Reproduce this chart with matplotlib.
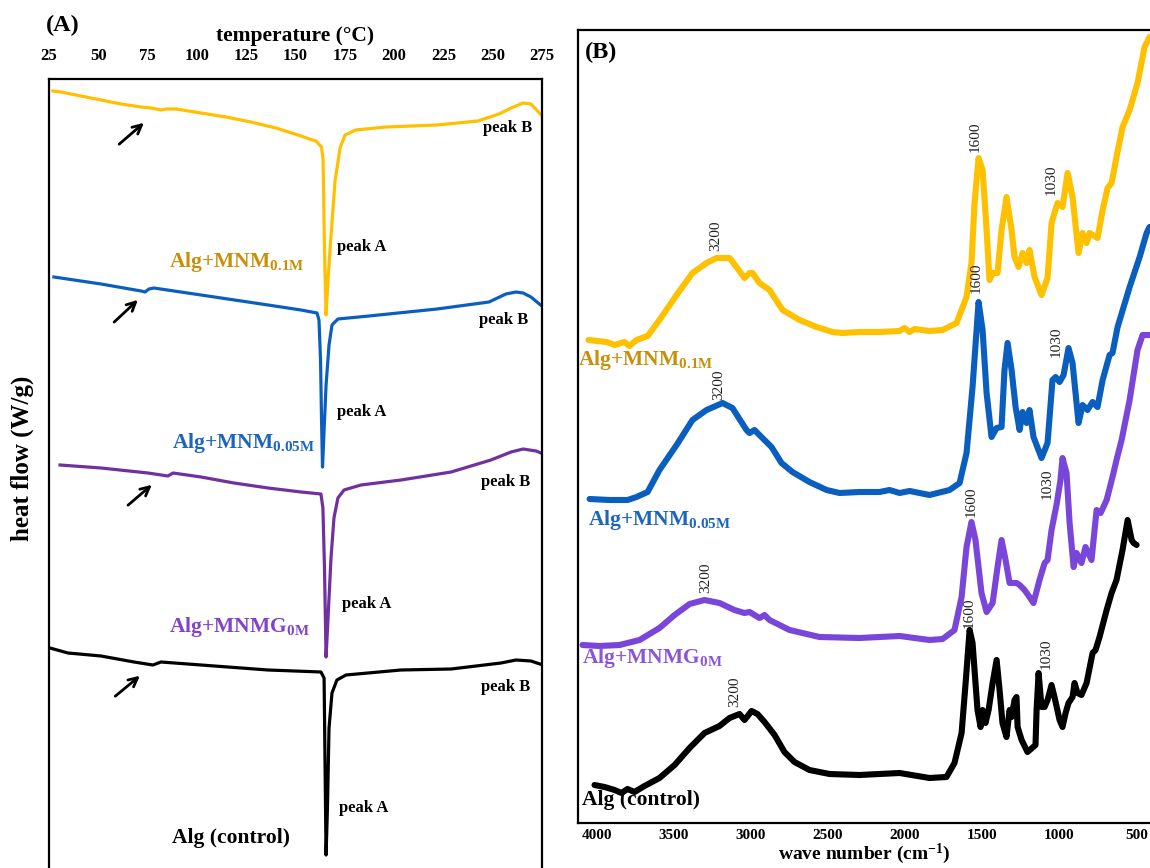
import matplotlib.pyplot as plt

plt.rcParams['font.family'] = ['Liberation Serif', 'DejaVu Serif']
plt.rcParams['font.weight'] = 'bold'
plt.rcParams['mathtext.fontset'] = 'custom'
plt.rcParams['mathtext.rm'] = 'Liberation Serif:bold'
plt.rcParams['mathtext.it'] = 'Liberation Serif:bold'
plt.rcParams['mathtext.bf'] = 'Liberation Serif:bold'

# ---- (A) DSC curves: temperature (C) / heat flow (a.u., stacked) ----
temp_01 = [27.0, 31.1, 41.2, 51.4, 61.5, 71.7, 76.8, 81.8, 84.4, 89.4, 102.1, 114.8, 127.4,
           140.1, 152.8, 157.0, 160.4, 163.2, 164.0, 164.7, 165.5, 166.5, 167.5, 170.0, 172.6,
           175.1, 180.5, 195.9, 221.8, 242.5, 253.2, 259.3, 265.4, 269.4, 277.5]
hf_01 = [777, 776, 772, 768, 764, 761, 760, 758, 759, 759, 755, 751, 746,
         740, 732, 729, 727, 721, 708, 618, 553, 588, 618, 686, 720,
         733, 738, 741, 743, 747, 754, 760, 765, 764, 747]

temp_005 = [27.5, 51.4, 71.7, 73.7, 75.7, 78.2, 102.1, 136.1, 152.8, 160.9, 161.9, 162.7,
            163.2, 163.7, 164.5, 165.5, 167.0, 168.5, 171.5, 187.3, 221.8, 248.1, 256.7,
            261.8, 265.4, 269.4, 275.5]
hf_005 = [591, 584, 577, 576, 579, 580, 573, 563, 558, 555, 548, 508,
          448, 401, 438, 483, 523, 543, 549, 552, 559, 566, 574,
          576, 575, 571, 561]

temp_0 = [30.6, 51.4, 75.2, 85.3, 87.9, 102.1, 118.8, 136.1, 152.8, 162.9, 163.9, 164.7,
          165.5, 166.5, 168.0, 169.5, 171.5, 174.6, 183.2, 203.5, 228.9, 249.1, 259.3,
          265.4, 272.0, 277.0]
hf_0 = [403, 400, 395, 392, 395, 391, 385, 380, 376, 374, 360, 300,
        211, 250, 310, 350, 370, 378, 383, 388, 396, 408, 416,
        419, 417, 413]

temp_ctrl = [25.5, 34.6, 51.4, 68.1, 77.7, 81.8, 102.1, 136.1, 162.9, 164.5, 165.0, 165.5,
             166.2, 167.0, 168.5, 171.0, 175.6, 203.5, 228.9, 254.2, 261.8, 269.4, 277.0]
hf_ctrl = [220, 215, 212, 206, 203, 206, 203, 198, 196, 190, 100, 13,
           60, 140, 175, 188, 193, 198, 199, 205, 208, 207, 202]

temp_ticks = [25, 50, 75, 100, 125, 150, 175, 200, 225, 250, 275]

# ---- (B) FTIR spectra: wave number (cm-1) / transmittance (a.u., stacked) ----
wn_01 = [4052, 3935, 3883, 3819, 3786, 3741, 3669, 3592, 3481, 3378, 3287, 3222, 3138, 3093,
         3041, 3008, 2989, 2944, 2879, 2794, 2684, 2574, 2470, 2406, 2295, 2166, 2036, 2004,
         1971, 1939, 1842, 1757, 1667, 1602, 1570, 1550, 1524, 1498, 1472, 1453, 1433, 1401,
         1375, 1343, 1310, 1291, 1265, 1239, 1213, 1194, 1161, 1116, 1077, 1051, 1032, 1012,
         980, 947, 915, 876, 850, 824, 805, 753, 720, 688, 662, 630, 591, 545, 494, 448, 416]
tr_01 = [483, 481, 478, 481, 477, 483, 487, 503, 528, 550, 560, 565, 565, 556,
         545, 550, 550, 540, 533, 513, 503, 496, 491, 490, 491, 491, 492, 495,
         491, 494, 492, 493, 500, 526, 560, 620, 665, 653, 593, 543, 550, 550,
         593, 626, 593, 566, 556, 570, 560, 573, 546, 528, 545, 600, 610, 620,
         616, 650, 626, 570, 590, 580, 590, 585, 613, 635, 640, 666, 696, 713, 740, 776, 786]

wn_005 = [4045, 3916, 3799, 3741, 3669, 3592, 3481, 3378, 3287, 3183, 3119, 3028, 3008, 2976,
          2944, 2866, 2801, 2730, 2620, 2509, 2425, 2295, 2166, 2101, 2036, 1971, 1842, 1712,
          1647, 1602, 1563, 1524, 1498, 1472, 1440, 1407, 1375, 1356, 1336, 1310, 1284, 1258,
          1239, 1213, 1194, 1168, 1116, 1077, 1045, 1025, 999, 973, 941, 915, 876, 850, 818,
          785, 753, 720, 675, 656, 623, 545, 480, 435, 416]
tr_005 = [324, 323, 323, 326, 331, 353, 378, 403, 413, 420, 415, 393, 390, 393,
          388, 376, 360, 351, 341, 333, 330, 331, 331, 333, 330, 332, 328, 333,
          340, 370, 436, 521, 493, 430, 386, 395, 396, 453, 480, 453, 416, 393,
          411, 400, 413, 386, 365, 380, 443, 446, 441, 448, 475, 460, 400, 418, 413,
          421, 416, 443, 468, 470, 496, 536, 566, 590, 596]

wn_0 = [4091, 3981, 3851, 3721, 3592, 3494, 3397, 3300, 3203, 3106, 3041, 3008, 2944, 2911,
        2879, 2749, 2555, 2295, 2036, 1842, 1757, 1680, 1634, 1602, 1570, 1544, 1505, 1472,
        1433, 1401, 1375, 1349, 1323, 1278, 1258, 1226, 1194, 1168, 1129, 1096, 1077, 1051,
        1019, 993, 980, 954, 934, 908, 889, 857, 831, 792, 759, 733, 694, 656, 630, 597,
        545, 494, 461, 416]
tr_0 = [178, 177, 178, 183, 195, 208, 219, 223, 220, 213, 210, 211, 205, 208,
        203, 193, 186, 185, 187, 183, 184, 193, 226, 276, 301, 283, 230, 211,
        220, 256, 283, 263, 240, 240, 238, 233, 226, 220, 243, 260, 263, 293,
        318, 343, 365, 350, 300, 256, 270, 260, 276, 263, 313, 310, 323, 346, 363, 383,
        423, 473, 488, 488]

wn_ctrl = [4013, 3948, 3883, 3838, 3799, 3754, 3689, 3592, 3494, 3397, 3300, 3203, 3138, 3073,
           3041, 2995, 2957, 2911, 2846, 2782, 2717, 2620, 2490, 2295, 2036, 1842, 1732, 1680,
           1634, 1608, 1582, 1563, 1531, 1511, 1498, 1479, 1459, 1433, 1407, 1388, 1369, 1343,
           1323, 1310, 1291, 1278, 1271, 1245, 1207, 1155, 1148, 1135, 1116, 1096, 1077, 1051,
           1032, 999, 980, 960, 941, 915, 902, 883, 857, 824, 811, 785, 766, 740, 694, 662,
           630, 591, 558, 532, 519, 500]
tr_ctrl = [38, 36, 33, 30, 34, 31, 37, 45, 58, 75, 90, 97, 105, 109,
           103, 112, 109, 101, 88, 71, 61, 53, 49, 48, 50, 45, 46, 60,
           90, 140, 193, 180, 113, 96, 113, 100, 113, 140, 163, 133, 100, 86,
           113, 106, 123, 126, 96, 83, 71, 78, 113, 150, 116, 116, 123, 138,
           126, 103, 96, 110, 120, 126, 140, 130, 128, 140, 150, 170, 173, 186, 213, 230,
           243, 273, 303, 283, 280, 278]

wn_ticks = [4000, 3500, 3000, 2500, 2000, 1500, 1000, 500]

# peak annotations (wave number, height) per spectrum
ftir_marks = {
    '01': [('3200', 3229, 587), ('1600', 1543, 686), ('1030', 1051, 643)],
    '005': [('3200', 3209, 438), ('1600', 1537, 545), ('1030', 1019, 481)],
    '0': [('3200', 3294, 245), ('1600', 1570, 321), ('1030', 1077, 339)],
    'ctrl': [('3200', 3106, 131), ('1600', 1582, 210), ('1030', 1083, 169)],
}

names = [r'Alg+MNM$_{0.1M}$', r'Alg+MNM$_{0.05M}$', r'Alg+MNMG$_{0M}$', 'Alg (control)']

c_yel, c_blue, c_purA, c_purB = '#FFC000', '#0A5FBE', '#7030A0', '#7A46DA'
lab_cols = ['#C8900A', '#1C64BE', '#8043CC', 'black']

fig = plt.figure(figsize=(11.5, 8.68), dpi=100)

# ---------------- panel A ----------------
axA = fig.add_axes([49 / 1150, 0.0, 493 / 1150, 1 - 79 / 868])
for t, h, c in [(temp_01, hf_01, c_yel), (temp_005, hf_005, c_blue),
                (temp_0, hf_0, c_purA), (temp_ctrl, hf_ctrl, 'black')]:
    axA.plot(t, h, color=c, lw=2.3, solid_joinstyle='round')
axA.set_xlim(25, 275)
axA.set_ylim(0, 789)
axA.xaxis.tick_top()
axA.xaxis.set_label_position('top')
axA.set_xticks(temp_ticks)
axA.set_xticklabels([str(v) for v in temp_ticks], fontsize=12, fontweight='bold')
axA.tick_params(axis='x', length=0, pad=11)
axA.set_yticks([])
axA.set_xlabel('temperature (°C)', fontsize=15.5, fontweight='bold', labelpad=5)
axA.set_ylabel('heat flow (W/g)', fontsize=18, fontweight='bold', va='center')
axA.yaxis.set_label_coords(-27 / 493, (868 - 458) / 789)
axA.spines['bottom'].set_visible(False)
for s in ['left', 'top', 'right']:
    axA.spines[s].set_linewidth(1.6)

lab_posA = [(85.9, 606), (87.4, 425), (85.9, 241), (87.4, 30)]
for (x, y), txt, c in zip(lab_posA, names, lab_cols):
    axA.text(x, y, txt, color=c, fontsize=15.5, fontweight='bold', ha='left', va='center')

peakB_pos = [(245.0, 740), (243.0, 548), (244.0, 386), (244.0, 181)]
peakA_pos = [(171.0, 621), (171.0, 456), (173.6, 264), (172.1, 60)]
for x, y in peakB_pos:
    axA.text(x, y, 'peak B', fontsize=12, fontweight='bold', ha='left', va='center')
for x, y in peakA_pos:
    axA.text(x, y, 'peak A', fontsize=12, fontweight='bold', ha='left', va='center')

arrows = [((59.5, 722), (74.2, 747)), ((57.0, 544), (71.1, 570)),
          ((64.0, 361), (78.2, 385)), ((57.5, 170), (72.2, 194))]
for tail, head in arrows:
    axA.annotate('', xy=head, xytext=tail,
                 arrowprops=dict(arrowstyle='->', lw=2, color='black', mutation_scale=16))

fig.text(46 / 1150, 1 - 25 / 868, '(A)', fontsize=17.5, fontweight='bold', ha='left', va='center')

# ---------------- panel B ----------------
axB = fig.add_axes([578 / 1150, 1 - 823 / 868, 572 / 1150, 793 / 868])
specs = [(wn_01, tr_01, c_yel, '01'), (wn_005, tr_005, c_blue, '005'),
         (wn_0, tr_0, c_purB, '0'), (wn_ctrl, tr_ctrl, 'black', 'ctrl')]
for w, tr, c, key in specs:
    axB.plot(w, tr, color=c, lw=4.4, solid_joinstyle='round', solid_capstyle='round')
    for txt, x, y in ftir_marks[key]:
        axB.text(x, y, txt, rotation=90, fontsize=11, fontweight='normal', color='#222222',
                 ha='center', va='center')
axB.set_xlim(4120, 413)
axB.set_ylim(0, 793)
axB.set_xticks(wn_ticks)
axB.set_xticklabels([str(v) for v in wn_ticks], fontsize=11, fontweight='bold')
axB.tick_params(axis='x', length=0, pad=4)
axB.set_yticks([])
axB.set_xlabel('wave number (cm$^{-1}$)', fontsize=14, fontweight='bold')
axB.xaxis.label.set_va('bottom')
axB.xaxis.set_label_coords(0.5, -43 / 793)
axB.spines['right'].set_visible(False)
for s in ['left', 'top', 'bottom']:
    axB.spines[s].set_linewidth(1.6)

lab_posB = [(4123, 463), (4058, 303), (4091, 165), (4091, 23)]
lab_colsB = ['#C8900A', '#1C64BE', '#8A55D8', 'black']
for (x, y), txt, c in zip(lab_posB, names, lab_colsB):
    axB.text(x, y, txt, color=c, fontsize=15.5, fontweight='bold', ha='left', va='center')

axB.text(0.012, 0.985, '(B)', transform=axB.transAxes, fontsize=17.5, fontweight='bold',
         ha='left', va='top')

fig.savefig('out.png', dpi=100)
